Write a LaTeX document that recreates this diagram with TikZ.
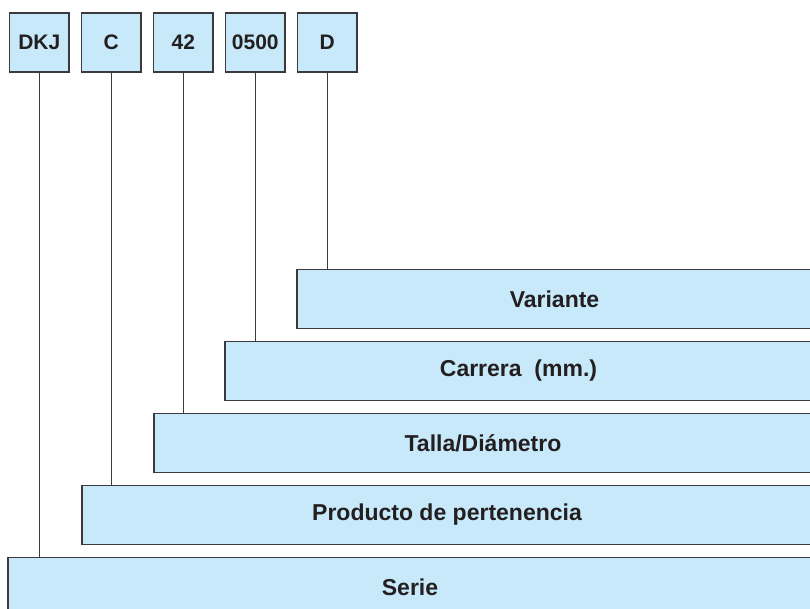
\documentclass[tikz,border=0pt]{standalone}
\usepackage{fontspec}
\setmainfont{Liberation Sans}
\definecolor{boxfill}{HTML}{C7E9F9}
\definecolor{boxline}{HTML}{3A3A3A}
\definecolor{txt}{HTML}{231F20}
\begin{document}
\begin{tikzpicture}[x=1pt,y=-1pt,
  codebox/.style={draw=boxline,fill=boxfill,line width=1.4pt,minimum width=59.5pt,minimum height=59pt,inner sep=0pt,text=txt,font=\fontsize{21}{25}\selectfont\bfseries},
  barbox/.style={draw=boxline,fill=boxfill,line width=1.4pt,minimum height=59pt,inner sep=0pt,text=txt,font=\fontsize{23}{27}\selectfont\bfseries},
  link/.style={draw=boxline,line width=1.3pt}]
\clip (0,0) rectangle (810,609);
\fill[white] (0,0) rectangle (810,609);
% top code boxes
\node[codebox] (b1) at (39.3,42.5) {DKJ};
\node[codebox] (b2) at (111.3,42.5) {C};
\node[codebox] (b3) at (183.3,42.5) {42};
\node[codebox] (b4) at (255.3,42.5) {0500};
\node[codebox] (b5) at (327.3,42.5) {D};
% description bars (right edge off the page)
\node[barbox,minimum width=515pt] (r5) at ({(297+812)/2},299) {Variante};
\node[barbox,minimum width=587pt] (r4) at ({(225+812)/2},371) {Carrera\ \ (mm.)};
\node[barbox,minimum width=658pt] (r3) at ({(154+812)/2},443) {Talla/Diámetro};
\node[barbox,minimum width=730pt] (r2) at ({(82+812)/2},515) {Producto de pertenencia};
\node[barbox,minimum width=804pt] (r1) at ({(8+812)/2},587) {Serie};
% connectors
\draw[link] (b1.south) -- (b1.south |- r1.north);
\draw[link] (b2.south) -- (b2.south |- r2.north);
\draw[link] (b3.south) -- (b3.south |- r3.north);
\draw[link] (b4.south) -- (b4.south |- r4.north);
\draw[link] (b5.south) -- (b5.south |- r5.north);
\end{tikzpicture}
\end{document}
